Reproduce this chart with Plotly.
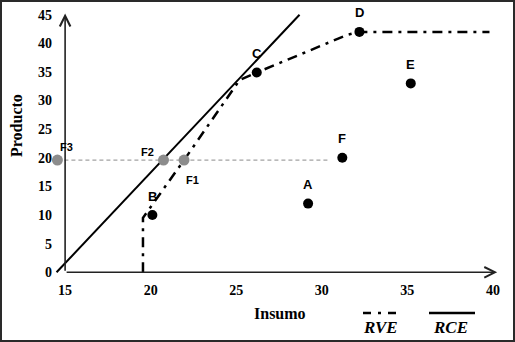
import plotly.graph_objects as go

# ---- data ----
pt_names = ["A", "B", "C", "D", "E", "F"]
pt_x = [29.2, 20.1, 26.2, 32.2, 35.2, 31.2]
pt_y = [12.0, 10.0, 34.9, 42.0, 33.0, 20.0]

f_names = ["F1", "F2", "F3"]
f_x = [21.95, 20.75, 14.55]
f_y = [19.6, 19.6, 19.6]

ref_x = [14.55, 30.4]
ref_y = [19.6, 19.6]

rce_x = [14.5, 28.7]
rce_y = [0.0, 45.0]

rve_x = [19.55, 19.55, 19.95, 21.95, 25.2, 26.2, 31.5, 32.2, 39.8]
rve_y = [0.0, 9.5, 11.2, 19.6, 33.6, 34.9, 41.5, 42.0, 42.0]

x_ticks = [15, 20, 25, 30, 35, 40]
y_ticks = [0, 5, 10, 15, 20, 25, 30, 35, 40, 45]

# ---- layout geometry ----
W, H = 515, 342
ML, MR, MT, MB = 48, 5, 9, 64
PW, PH = W - ML - MR, H - MT - MB
XR = [14, 41]
YR = [-1, 46]


def px(x):
    return (x - ML) / PW


def py(y):
    return (H - MB - y) / PH


SERIF = "Liberation Serif"
SANS = "Liberation Sans"
RVE_DASH = "10px,6px,3px,6px"

fig = go.Figure()

fig.add_trace(go.Scatter(x=ref_x, y=ref_y, mode="lines",
                         line=dict(color="#8a8a8a", width=1, dash="4px,3px"),
                         hoverinfo="skip", showlegend=False))
fig.add_trace(go.Scatter(x=rce_x, y=rce_y, mode="lines",
                         line=dict(color="black", width=2),
                         showlegend=False))
fig.add_trace(go.Scatter(x=rve_x, y=rve_y, mode="lines",
                         line=dict(color="black", width=2.5, dash=RVE_DASH),
                         showlegend=False))
fig.add_trace(go.Scatter(x=f_x, y=f_y, mode="markers",
                         marker=dict(color="#8c8c8c", size=11),
                         cliponaxis=False, showlegend=False))
fig.add_trace(go.Scatter(x=pt_x, y=pt_y, mode="markers",
                         marker=dict(color="black", size=10),
                         cliponaxis=False, showlegend=False))

annotations = []
# axis lines with open arrowheads
annotations.append(dict(x=15, y=45.2, ax=15, ay=0, xref="x", yref="y", axref="x", ayref="y",
                        text="", showarrow=True, arrowhead=5, arrowsize=1.3, arrowwidth=1.6,
                        arrowcolor="#222", standoff=0, startstandoff=0))
annotations.append(dict(x=40.25, y=0, ax=15, ay=0, xref="x", yref="y", axref="x", ayref="y",
                        text="", showarrow=True, arrowhead=5, arrowsize=1.3, arrowwidth=1.6,
                        arrowcolor="#222", standoff=0, startstandoff=0))

# point labels
for n, x, y in zip(pt_names, pt_x, pt_y):
    annotations.append(dict(x=x, y=y, xref="x", yref="y", text="<b>%s</b>" % n,
                            showarrow=False, yshift=19, xanchor="center", yanchor="middle",
                            font=dict(family=SANS, size=13, color="black")))
f_shift = [(8, -20), (-16, 8), (9, 13)]
for n, x, y, (dx, dy) in zip(f_names, f_x, f_y, f_shift):
    annotations.append(dict(x=x, y=y, xref="x", yref="y", text="<b>%s</b>" % n,
                            showarrow=False, xshift=dx, yshift=dy,
                            xanchor="center", yanchor="middle",
                            font=dict(family=SANS, size=11, color="black")))


def paper_text(text, x, y, size, angle=0):
    return dict(x=px(x), y=py(y), xref="paper", yref="paper", text=text,
                showarrow=False, textangle=angle, xanchor="center", yanchor="middle",
                font=dict(family=SERIF, size=size, color="black"))


# axis titles
annotations.append(paper_text("<b>Insumo</b>", 280, 313, 16))
annotations.append(paper_text("<b>Producto</b>", 17, 126, 16, -90))
# legend texts
annotations.append(paper_text("<b><i>RVE</i></b>", 380, 327, 17))
annotations.append(paper_text("<b><i>RCE</i></b>", 450, 327, 17))

shapes = [
    dict(type="line", xref="paper", yref="paper", x0=px(363), x1=px(398), y0=py(313), y1=py(313),
         line=dict(color="black", width=2.5, dash="8px,7px,3px,7px")),
    dict(type="line", xref="paper", yref="paper", x0=px(429), x1=px(475), y0=py(313), y1=py(313),
         line=dict(color="black", width=2.5)),
    dict(type="rect", xref="paper", yref="paper", x0=px(1), x1=px(514), y0=py(341), y1=py(1),
         line=dict(color="#2a2a2a", width=2)),
]

fig.update_layout(
    width=W, height=H,
    margin=dict(l=ML, r=MR, t=MT, b=MB, pad=0),
    paper_bgcolor="white", plot_bgcolor="white",
    showlegend=False,
    annotations=annotations,
    shapes=shapes,
    xaxis=dict(range=XR, tickvals=x_ticks, ticktext=[str(v) for v in x_ticks],
               showgrid=False, zeroline=False, showline=False,
               anchor="free", position=(0 - YR[0]) / (YR[1] - YR[0]),
               ticks="", ticklabelstandoff=8,
               tickfont=dict(family=SERIF, size=14, color="black", weight="bold")),
    yaxis=dict(range=YR, tickvals=y_ticks, ticktext=[str(v) for v in y_ticks],
               showgrid=False, zeroline=False, showline=False,
               anchor="free", position=(15 - XR[0]) / (XR[1] - XR[0]),
               ticks="", ticklabelstandoff=13,
               tickfont=dict(family=SERIF, size=14, color="black", weight="bold")),
)

fig.write_html("out.html")
